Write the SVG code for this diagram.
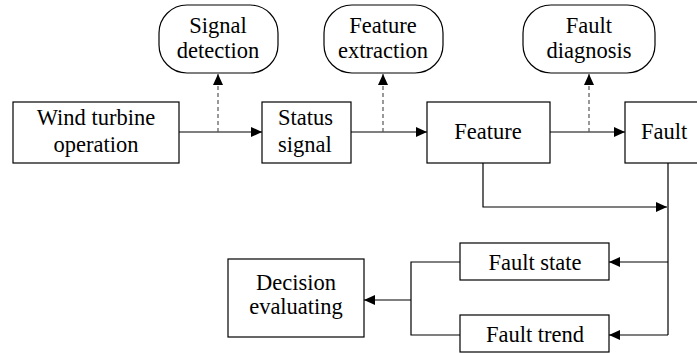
<svg xmlns="http://www.w3.org/2000/svg" width="697" height="353" viewBox="0 0 697 353">
<style>
.box{fill:#fff;stroke:#000;stroke-width:1.2}
.t{font-family:'Liberation Serif','Times New Roman',serif;font-size:22.5px;fill:#000}
.m{text-anchor:middle}
.ln{fill:none;stroke:#000;stroke-width:1.2}
.d{fill:none;stroke:#555;stroke-width:1.2;stroke-dasharray:4,3}
</style>
<defs>
<marker id="ah" markerWidth="12" markerHeight="10" refX="11" refY="5" orient="auto" markerUnits="userSpaceOnUse">
<path d="M0,0 L11,5 L0,10 Z" fill="#000"/>
</marker>
</defs>
<rect width="697" height="353" fill="#fff"/>
<g id="connectors">
<path class="ln" d="M179,132 H262" marker-end="url(#ah)"/>
<path class="ln" d="M351,132 H427" marker-end="url(#ah)"/>
<path class="ln" d="M550,132 H625" marker-end="url(#ah)"/>
<path class="d" d="M218,132 V74" marker-end="url(#ah)"/>
<path class="d" d="M383,132 V74" marker-end="url(#ah)"/>
<path class="d" d="M589,132 V74" marker-end="url(#ah)"/>
<path class="ln" d="M483,163 V207 H667" marker-end="url(#ah)"/>
<path class="ln" d="M668,163 V335"/>
<path class="ln" d="M668,262 H609" marker-end="url(#ah)"/>
<path class="ln" d="M668,335 H609" marker-end="url(#ah)"/>
<path class="ln" d="M460,262 H411 V335 H460"/>
<path class="ln" d="M411,300 H364" marker-end="url(#ah)"/>
</g>
<g id="wind">
<rect class="box" x="13" y="102" width="166" height="61"/>
<text class="t m" x="96" y="125">Wind turbine</text>
<text class="t m" x="96" y="152">operation</text>
</g>
<g id="signal-detection">
<rect class="box" x="159" y="5" width="119" height="68" rx="28" ry="28"/>
<text class="t m" x="218" y="33">Signal</text>
<text class="t m" x="218" y="58">detection</text>
</g>
<g id="status">
<rect class="box" x="262" y="102" width="89" height="61"/>
<text class="t" x="278" y="125">Status</text>
<text class="t" x="278" y="152">signal</text>
</g>
<g id="feature-extraction">
<rect class="box" x="324" y="5" width="119" height="68" rx="28" ry="28"/>
<text class="t m" x="383" y="33">Feature</text>
<text class="t m" x="383" y="58">extraction</text>
</g>
<g id="feature">
<rect class="box" x="427" y="102" width="123" height="61"/>
<text class="t m" x="488" y="139">Feature</text>
</g>
<g id="fault-diagnosis">
<rect class="box" x="523" y="5" width="132" height="68" rx="28" ry="28"/>
<text class="t m" x="589" y="33">Fault</text>
<text class="t m" x="589" y="58">diagnosis</text>
</g>
<g id="fault">
<rect class="box" x="625" y="102" width="90" height="61"/>
<text class="t" x="641" y="139">Fault</text>
</g>
<g id="fault-state">
<rect class="box" x="460" y="243" width="149" height="37"/>
<text class="t m" x="535" y="270">Fault state</text>
</g>
<g id="fault-trend">
<rect class="box" x="460" y="315" width="149" height="37"/>
<text class="t m" x="535" y="342">Fault trend</text>
</g>
<g id="decision">
<rect class="box" x="228" y="259" width="136" height="78"/>
<text class="t m" x="296" y="290">Decision</text>
<text class="t m" x="296" y="314">evaluating</text>
</g>
</svg>
